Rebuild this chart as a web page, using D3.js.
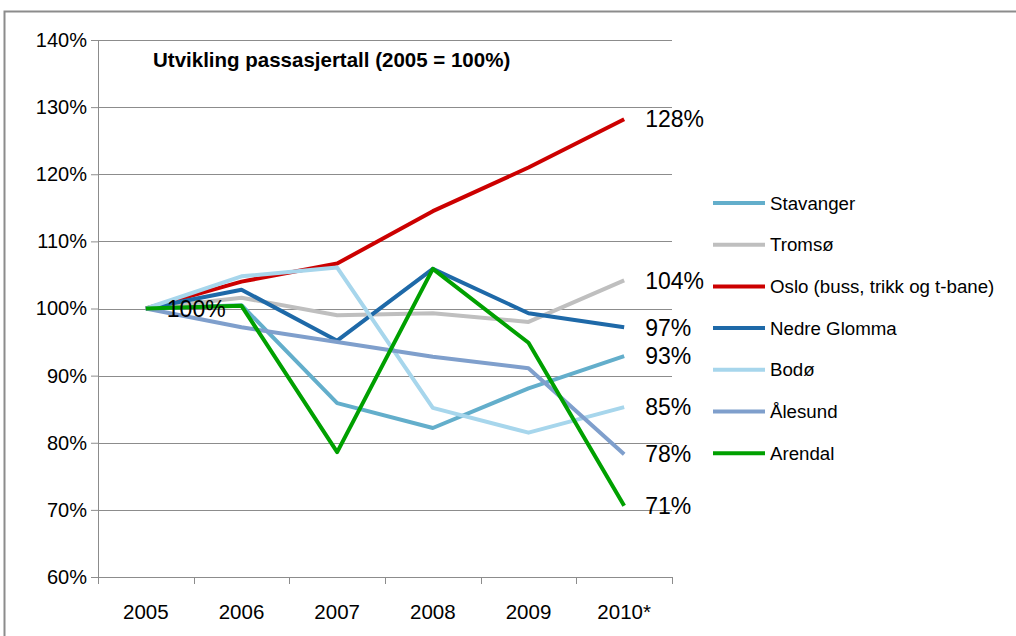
<!DOCTYPE html>
<html>
<head>
<meta charset="utf-8">
<script src="https://cdn.jsdelivr.net/npm/d3@7"></script>
<style>
  body { margin: 0; background: #fff; }
  text { font-family: "Liberation Sans", Arial, sans-serif; fill: #000; }
</style>
</head>
<body>
<div id="chart"></div>
<script>
const years = ["2005", "2006", "2007", "2008", "2009", "2010*"];
const cities = ["Stavanger", "Tromsø", "Oslo (buss, trikk og t-bane)", "Nedre Glomma", "Bodø", "Ålesund", "Arendal"];
const colors = ["#63aecb", "#bfbfbf", "#cc0000", "#1e69a8", "#a7d6ec", "#7f9fcc", "#00a000"];

const stavanger = [100, 100.5, 85.9, 82.2, 88.1, 92.9];
const tromso = [100, 101.6, 99.0, 99.3, 98.0, 104.2];
const oslo = [100, 104.0, 106.7, 114.5, 121.0, 128.2];
const nedreGlomma = [100, 102.8, 95.2, 105.9, 99.3, 97.2];
const bodo = [100, 104.8, 106.1, 85.2, 81.5, 85.3];
const alesund = [100, 97.2, 95.0, 92.8, 91.1, 78.3];
const arendal = [100, 100.4, 78.6, 105.9, 94.9, 70.6];
const series = [stavanger, tromso, oslo, nedreGlomma, bodo, alesund, arendal];

// end labels: [series index, text]
const endLabels = [[2, "128%"], [1, "104%"], [3, "97%"], [0, "93%"], [4, "85%"], [5, "78%"], [6, "71%"]];
const yTicks = [60, 70, 80, 90, 100, 110, 120, 130, 140];

const W = 1016, H = 636;
const margin = { top: 40, right: 344, bottom: 59, left: 98 };
const width = W - margin.left - margin.right;
const height = H - margin.top - margin.bottom;

const svg = d3.select("#chart").append("svg")
    .attr("width", W)
    .attr("height", H);

// chart frame
svg.append("rect")
    .attr("x", 4.5).attr("y", 11.5)
    .attr("width", W + 10).attr("height", H)
    .attr("fill", "none")
    .attr("stroke", "#8c8c8c")
    .attr("stroke-width", 2);

const g = svg.append("g")
    .attr("transform", `translate(${margin.left},${margin.top})`);

const x = d3.scaleBand().domain(years).range([0, width]);
const y = d3.scaleLinear().domain([60, 140]).range([height, 0]);

// gridlines
g.selectAll(".grid")
    .data(yTicks.filter(t => t > 60))
    .enter().append("line")
    .attr("x1", 0).attr("x2", width)
    .attr("y1", d => Math.round(y(d)) + 0.5)
    .attr("y2", d => Math.round(y(d)) + 0.5)
    .attr("stroke", "#8c8c8c")
    .attr("stroke-width", 1);

// y axis
const yAxis = g.append("g")
    .call(d3.axisLeft(y).tickValues(yTicks).tickFormat(d => d + "%").tickSize(7).tickPadding(4));
yAxis.select(".domain").attr("stroke", "#8c8c8c");
yAxis.selectAll(".tick line").attr("stroke", "#8c8c8c");
yAxis.selectAll("text").style("font-size", "20px").attr("fill", "#000");

// x axis
const xAxis = g.append("g")
    .attr("transform", `translate(0,${height})`)
    .call(d3.axisBottom(x).tickSize(0).tickPadding(27));
xAxis.select(".domain").attr("stroke", "#8c8c8c");
xAxis.selectAll("text").style("font-size", "20.5px").attr("fill", "#000");
g.append("g").selectAll("line")
    .data(d3.range(years.length + 1))
    .enter().append("line")
    .attr("x1", i => Math.round(i * x.step()) + 0.5)
    .attr("x2", i => Math.round(i * x.step()) + 0.5)
    .attr("y1", height).attr("y2", height + 7)
    .attr("stroke", "#8c8c8c");

// lines
const line = d3.line()
    .x((d, i) => x(years[i]) + x.bandwidth() / 2)
    .y(d => y(d));

g.selectAll(".series")
    .data(series)
    .enter().append("path")
    .attr("fill", "none")
    .attr("stroke", (d, i) => colors[i])
    .attr("stroke-width", 4)
    .attr("stroke-linejoin", "round")
    .attr("d", line);

// value labels
g.append("text")
    .attr("x", x(years[0]) + x.bandwidth() / 2 + 21)
    .attr("y", y(100))
    .attr("dy", "0.36em")
    .style("font-size", "23px")
    .text("100%");

g.selectAll(".endlabel")
    .data(endLabels)
    .enter().append("text")
    .attr("x", x(years[5]) + x.bandwidth() / 2 + 21)
    .attr("y", d => y(series[d[0]][5]))
    .attr("dy", "0.36em")
    .style("font-size", "23px")
    .text(d => d[1]);

// title
g.append("text")
    .attr("x", 55)
    .attr("y", 20)
    .attr("dy", "0.35em")
    .style("font-size", "20.5px")
    .style("font-weight", "bold")
    .text("Utvikling passasjertall (2005 = 100%)");

// legend
const legend = svg.append("g")
    .attr("transform", "translate(713,203)");
const item = legend.selectAll(".item")
    .data(cities)
    .enter().append("g")
    .attr("transform", (d, i) => `translate(0,${i * 41.7})`);
item.append("line")
    .attr("x1", 0).attr("x2", 52)
    .attr("stroke", (d, i) => colors[i])
    .attr("stroke-width", 4);
item.append("text")
    .attr("x", 57)
    .attr("dy", "0.35em")
    .style("font-size", "18.7px")
    .text(d => d);
</script>
</body>
</html>
